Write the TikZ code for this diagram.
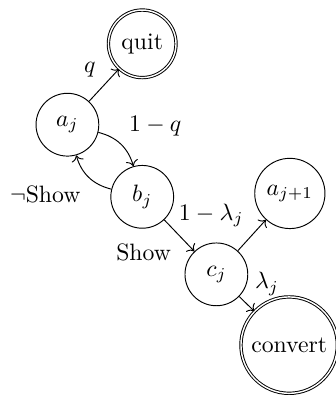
\documentclass[tikz,border=0pt]{standalone}
\usepackage{amsmath, amsfonts, amssymb}
\usepackage{tikz}
\usetikzlibrary{arrows.meta}

\begin{document}
\begin{tikzpicture}[
        state/.style={circle, draw=black, minimum size=26.5pt},
        final/.style={state, double},
        arrow/.style={->, draw=black}
    ]
        \useasboundingbox (0,0) rectangle (4.97,-5.86);

        % Estados
        \node [state] (aj) at (1.00, -1.85) {$a_j$};
        \node [final] (quit) at (2.11, -0.65) {quit};
        \node [state] (bj) at (2.11, -2.92) {$b_j$};
        \node [state] (cj) at (3.21, -4.07) {$c_j$};
        \node [state] (aj1) at (4.30, -2.87) {$a_{j+1}$};
        \node [final] (convert) at (4.29, -5.12) {convert};

        % Transiciones
        \draw [arrow] (aj) -- node[above left] {$q$} (quit);
        \draw [arrow] (aj) to[bend left] node[above right] {$1-q$} (bj);
        \draw [arrow] (bj) to[bend left] node[below left] {$\neg$Show} (aj);
        \draw [arrow] (bj) -- node[below left] {Show} (cj);
        \draw [arrow] (cj) -- node[above left] {$1-\lambda_j$} (aj1);
        \draw [arrow] (cj) -- node[above right] {$\lambda_j$} (convert);
    \end{tikzpicture}
\end{document}
